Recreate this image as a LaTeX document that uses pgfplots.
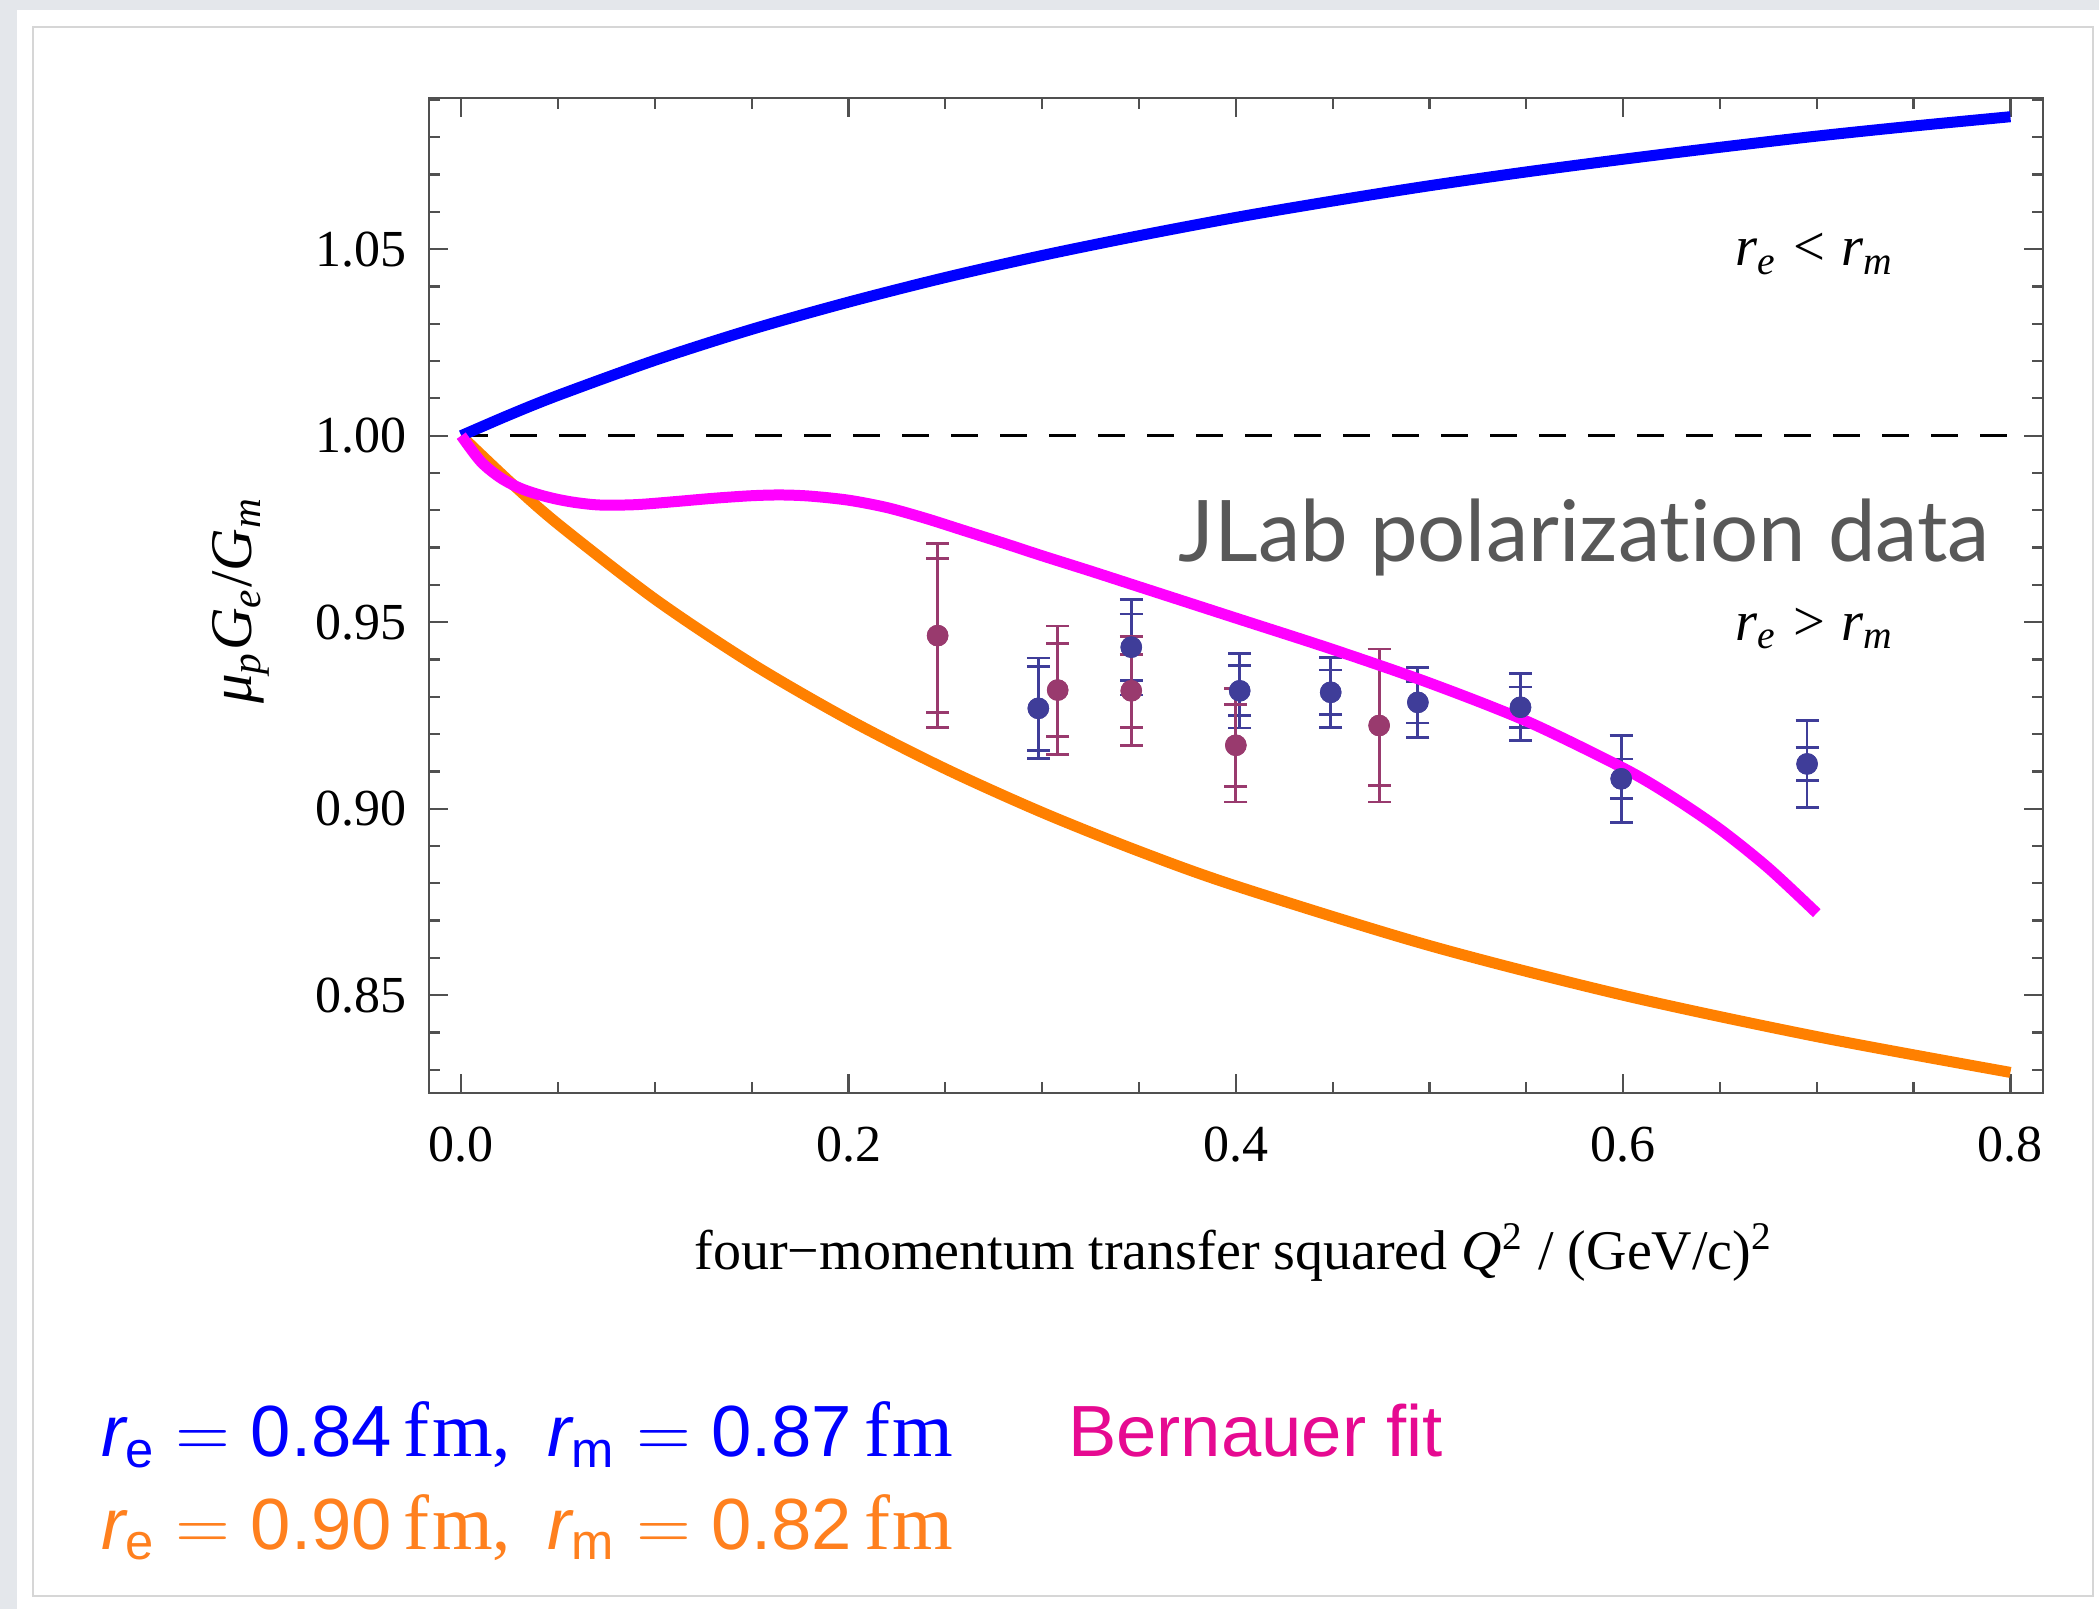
\documentclass[border=0pt]{standalone}
\usepackage{fontspec}
\setmainfont{Liberation Serif}
\newfontfamily\helv{Liberation Sans}
\newfontfamily\jlabfont[Ligatures={NoCommon}]{Lato}
\usepackage{pgfplots}
\usepackage{pgfplotstable}
\pgfplotsset{compat=1.18}

\definecolor{pagegray}{RGB}{228,231,235}
\definecolor{framegray}{RGB}{214,214,214}
\definecolor{axisgray}{RGB}{80,80,80}
\definecolor{curveorange}{RGB}{255,128,0}
\definecolor{curveblue}{RGB}{0,0,255}
\definecolor{curvemagenta}{RGB}{255,0,255}
\definecolor{jlabblue}{RGB}{63,61,153}
\definecolor{jlabpurple}{RGB}{153,58,110}
\definecolor{textgray}{RGB}{88,88,88}
\definecolor{legblue}{RGB}{0,0,255}
\definecolor{legorange}{RGB}{255,128,30}
\definecolor{legpink}{RGB}{230,10,145}

% JLab recoil-polarization data: Q^2, ratio, statistical and total errors
\pgfplotstableread{
x      y       stat    tot
0.298  0.9269  0.0112  0.0135
0.346  0.9433  0.0089  0.0128
0.402  0.9316  0.0067  0.0100
0.449  0.9312  0.0060  0.0094
0.494  0.9285  0.0055  0.0094
0.547  0.9272  0.0054  0.0090
0.599  0.9080  0.0053  0.0117
0.695  0.9120  0.0045  0.0117
}\zhandata

\pgfplotstableread{
x      y       stat    tot
0.246  0.9464  0.0206  0.0247
0.308  0.9318  0.0124  0.0172
0.346  0.9316  0.0098  0.0146
0.400  0.9170  0.0110  0.0152
0.474  0.9223  0.0160  0.0205
}\rondata

\newcommand{\rsub}[1]{{\itshape r}\textsubscript{#1}}
\newcommand{\fm}{{\rmfamily\fontsize{15.6}{17}\selectfont f\kern0.03em m}}
\newcommand{\radii}[2]{\rsub{e}${}={}$#1\,\fm{\rmfamily,}\hspace{0.5em}\rsub{m}${}={}$#2\,\fm}

\pgfplotsset{
  errstyle/.style={
    only marks, mark=*, mark size=1.95pt,
    error bars/.cd, y dir=both, y explicit,
    error bar style={line width=0.55pt},
    error mark options={rotate=90, line width=0.55pt, mark size=2.3pt}}
}

\begin{document}
\begin{tikzpicture}[x=1pt,y=1pt]
% slide page
\fill[pagegray] (0,0) rectangle (419.8,321.8);
\fill[white] (3.4,0) rectangle (419.8,319.8);
\draw[framegray, line width=0.45pt] (6.6,2.6) rectangle (418.6,316.4);

\begin{axis}[
  at={(85.86pt,103.14pt)}, anchor=south west,
  scale only axis, width=322.68pt, height=199.12pt,
  xmin=-0.0165, xmax=0.8167, ymin=0.8237, ymax=1.0906,
  xtick={0,0.2,0.4,0.6,0.8},
  minor xtick={0.05,0.1,0.15,0.25,0.3,0.35,0.45,0.5,0.55,0.65,0.7,0.75},
  ytick={0.85,0.9,0.95,1.0,1.05},
  minor ytick={0.83,0.84,0.86,0.87,0.88,0.89,0.91,0.92,0.93,0.94,0.96,0.97,0.98,0.99,1.01,1.02,1.03,1.04,1.06,1.07,1.08,1.09},
  tick align=inside,
  major tick length=3.8pt, minor tick length=2.2pt,
  axis line style={draw=axisgray, line width=0.45pt},
  every tick/.style={draw=axisgray, line width=0.45pt},
  /pgf/number format/assume math mode=true,
  xticklabel={\pgfmathprintnumber[fixed,fixed zerofill,precision=1]{\tick}},
  yticklabel={\pgfmathprintnumber[fixed,fixed zerofill,precision=2]{\tick}},
  tick label style={font=\fontsize{10.4}{12}\selectfont},
  xticklabel style={anchor=base, yshift=-13.7pt},
  yticklabel style={xshift=-1pt},
  xlabel={four−momentum transfer squared \textit{Q}\textsuperscript{2} / (GeV/c)\textsuperscript{2}},
  xlabel style={at={(axis description cs:0.4988,-0.1765)}, anchor=base, inner sep=0pt, font=\fontsize{11.2}{13}\selectfont},
  ylabel={\textit{μ}\textsubscript{\textit{p}}\textit{G}\textsubscript{\textit{e}}/\textit{G}\textsubscript{\textit{m}}},
  ylabel style={at={(axis description cs:-0.1167,0.4955)}, anchor=center, inner sep=0pt, font=\fontsize{11.8}{13}\selectfont},
]

% unit ratio
\addplot[black, line width=0.6pt, dash pattern=on 5.4pt off 4.4pt] coordinates {(0,1) (0.8,1)};

% r_e = 0.90 fm, r_m = 0.82 fm
\addplot[curveorange, line width=2.2pt, smooth] coordinates {
(0,1.0000) (0.025,0.9877) (0.05,0.9763) (0.1,0.9562) (0.15,0.9389)
(0.2,0.9239) (0.25,0.9107) (0.3,0.8990) (0.35,0.8886) (0.4,0.8793)
(0.5,0.8633) (0.6,0.8500) (0.7,0.8389) (0.8,0.8293)};

% r_e = 0.84 fm, r_m = 0.87 fm
\addplot[curveblue, line width=2.2pt, smooth] coordinates {
(0,1.0000) (0.025,1.0056) (0.05,1.0108) (0.1,1.0202) (0.15,1.0285)
(0.2,1.0358) (0.25,1.0424) (0.3,1.0483) (0.35,1.0536) (0.4,1.0585)
(0.45,1.0629) (0.5,1.0670) (0.55,1.0707) (0.6,1.0741) (0.65,1.0773)
(0.7,1.0803) (0.75,1.0830) (0.8,1.0855)};

% data with total and statistical error bars
\addplot[jlabblue, errstyle] table[x=x, y=y, y error=tot] {\zhandata};
\addplot[jlabblue, errstyle] table[x=x, y=y, y error=stat] {\zhandata};
\addplot[jlabpurple, errstyle] table[x=x, y=y, y error=tot] {\rondata};
\addplot[jlabpurple, errstyle] table[x=x, y=y, y error=stat] {\rondata};

% Bernauer fit
\addplot[curvemagenta, line width=2.2pt, smooth] coordinates {
(0,1.0000) (0.01,0.9931) (0.02,0.9888) (0.03,0.9860) (0.04,0.9842)
(0.05,0.9829) (0.06,0.9820) (0.072,0.9814) (0.09,0.9815) (0.11,0.9823)
(0.13,0.9832) (0.15,0.9839) (0.165,0.9841) (0.18,0.9838) (0.2,0.9827)
(0.22,0.9807) (0.24,0.9778) (0.26,0.9745) (0.28,0.9712) (0.3,0.9678)
(0.325,0.9637) (0.35,0.9595) (0.4,0.9511) (0.45,0.9427) (0.5,0.9337)
(0.55,0.9235) (0.6,0.9109) (0.625,0.9033) (0.65,0.8945) (0.675,0.8841)
(0.7,0.8720)};

\node[font=\fontsize{11.3}{13}\selectfont] at (axis cs:0.699,1.0487)
  {\textit{r}\textsubscript{\textit{e}}\hspace{0.28em}<\hspace{0.28em}\textit{r}\textsubscript{\textit{m}}};
\node[font=\fontsize{11.3}{13}\selectfont] at (axis cs:0.699,0.9482)
  {\textit{r}\textsubscript{\textit{e}}\hspace{0.28em}>\hspace{0.28em}\textit{r}\textsubscript{\textit{m}}};
\node[anchor=base west, inner sep=0pt, text=textgray, font=\fontsize{17}{19}\jlabfont]
  at (axis cs:0.3701,0.96614) {JLab polarization data};
\end{axis}

% curve key
\node[anchor=base west, inner sep=0pt, text=legblue, font=\fontsize{14.5}{17}\helv] at (20,30.5) {\radii{0.84}{0.87}};
\node[anchor=base west, inner sep=0pt, text=legorange, font=\fontsize{14.5}{17}\helv] at (20,12) {\radii{0.90}{0.82}};
\node[anchor=base west, inner sep=0pt, text=legpink, font=\fontsize{14.5}{17}\helv] at (213.4,30.5) {Bernauer fit};
\end{tikzpicture}
\end{document}
